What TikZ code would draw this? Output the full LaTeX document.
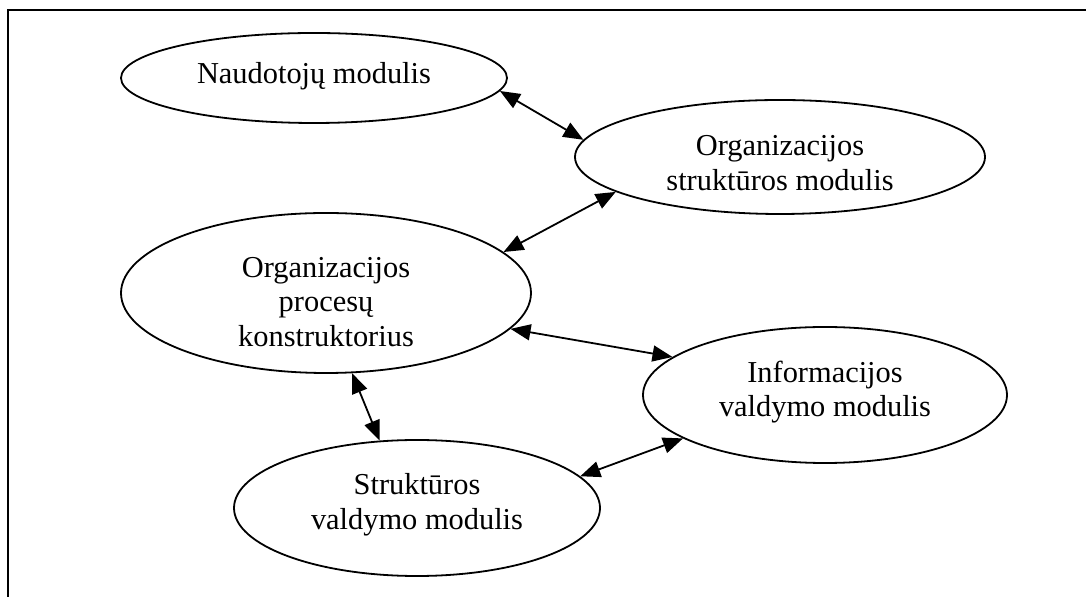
\documentclass[tikz,border=0pt]{standalone}
\usepackage{fontspec}
\setmainfont{Liberation Serif}
\usetikzlibrary{shapes.geometric,arrows.meta}

\tikzset{
  bubble/.style={draw, ellipse, line width=0.9pt, inner sep=0pt},
  txt/.style={align=center, inner sep=0pt, font=\fontsize{15.2}{17.3}\selectfont},
  link/.style={{Triangle[length=10pt,width=8pt]}-{Triangle[length=10pt,width=8pt]}, line width=0.9pt},
  frame/.style={line width=1.3pt}
}

\begin{document}
\begin{tikzpicture}[x=0.5pt, y=-0.5pt]
\useasboundingbox (0,0) rectangle (1086,597);

% open frame: only top and left edges
\coordinate (fbl) at (8,597);
\coordinate (ftl) at (8,10);
\coordinate (ftr) at (1086,10);
\draw[frame] (fbl) -- (ftl) -- (ftr);

% modules
\node[bubble, minimum width=193pt, minimum height=45pt] (e1) at (314,78) {};
\node[bubble, minimum width=205pt, minimum height=57pt] (e2) at (780,157) {};
\node[bubble, minimum width=205pt, minimum height=80pt] (e3) at (326,293) {};
\node[bubble, minimum width=182pt, minimum height=68pt] (e4) at (825,395) {};
\node[bubble, minimum width=183pt, minimum height=68pt] (e5) at (417,508) {};

% module names
\node[txt] (t1) at (314,76) {Naudotojų modulis};
\node[txt] (t2) at (780,163) {Organizacijos\\struktūros modulis};
\node[txt] (t3) at (326,302) {Organizacijos\\procesų\\konstruktorius};
\node[txt] (t4) at (825,392) {Informacijos\\valdymo modulis};
\node[txt] (t5) at (417,505) {Struktūros\\valdymo modulis};

% two-way links
\draw[link] (e1.-4.4) -- (e2.175.3);
\draw[link] (e3.13.8) -- (e2.192.9);
\draw[link] (e3.-11.8) -- (e4.166.1);
\draw[link] (e3.-72) -- (e5.119.2);
\draw[link] (e5.11) -- (e4.197.9);
\end{tikzpicture}
\end{document}
